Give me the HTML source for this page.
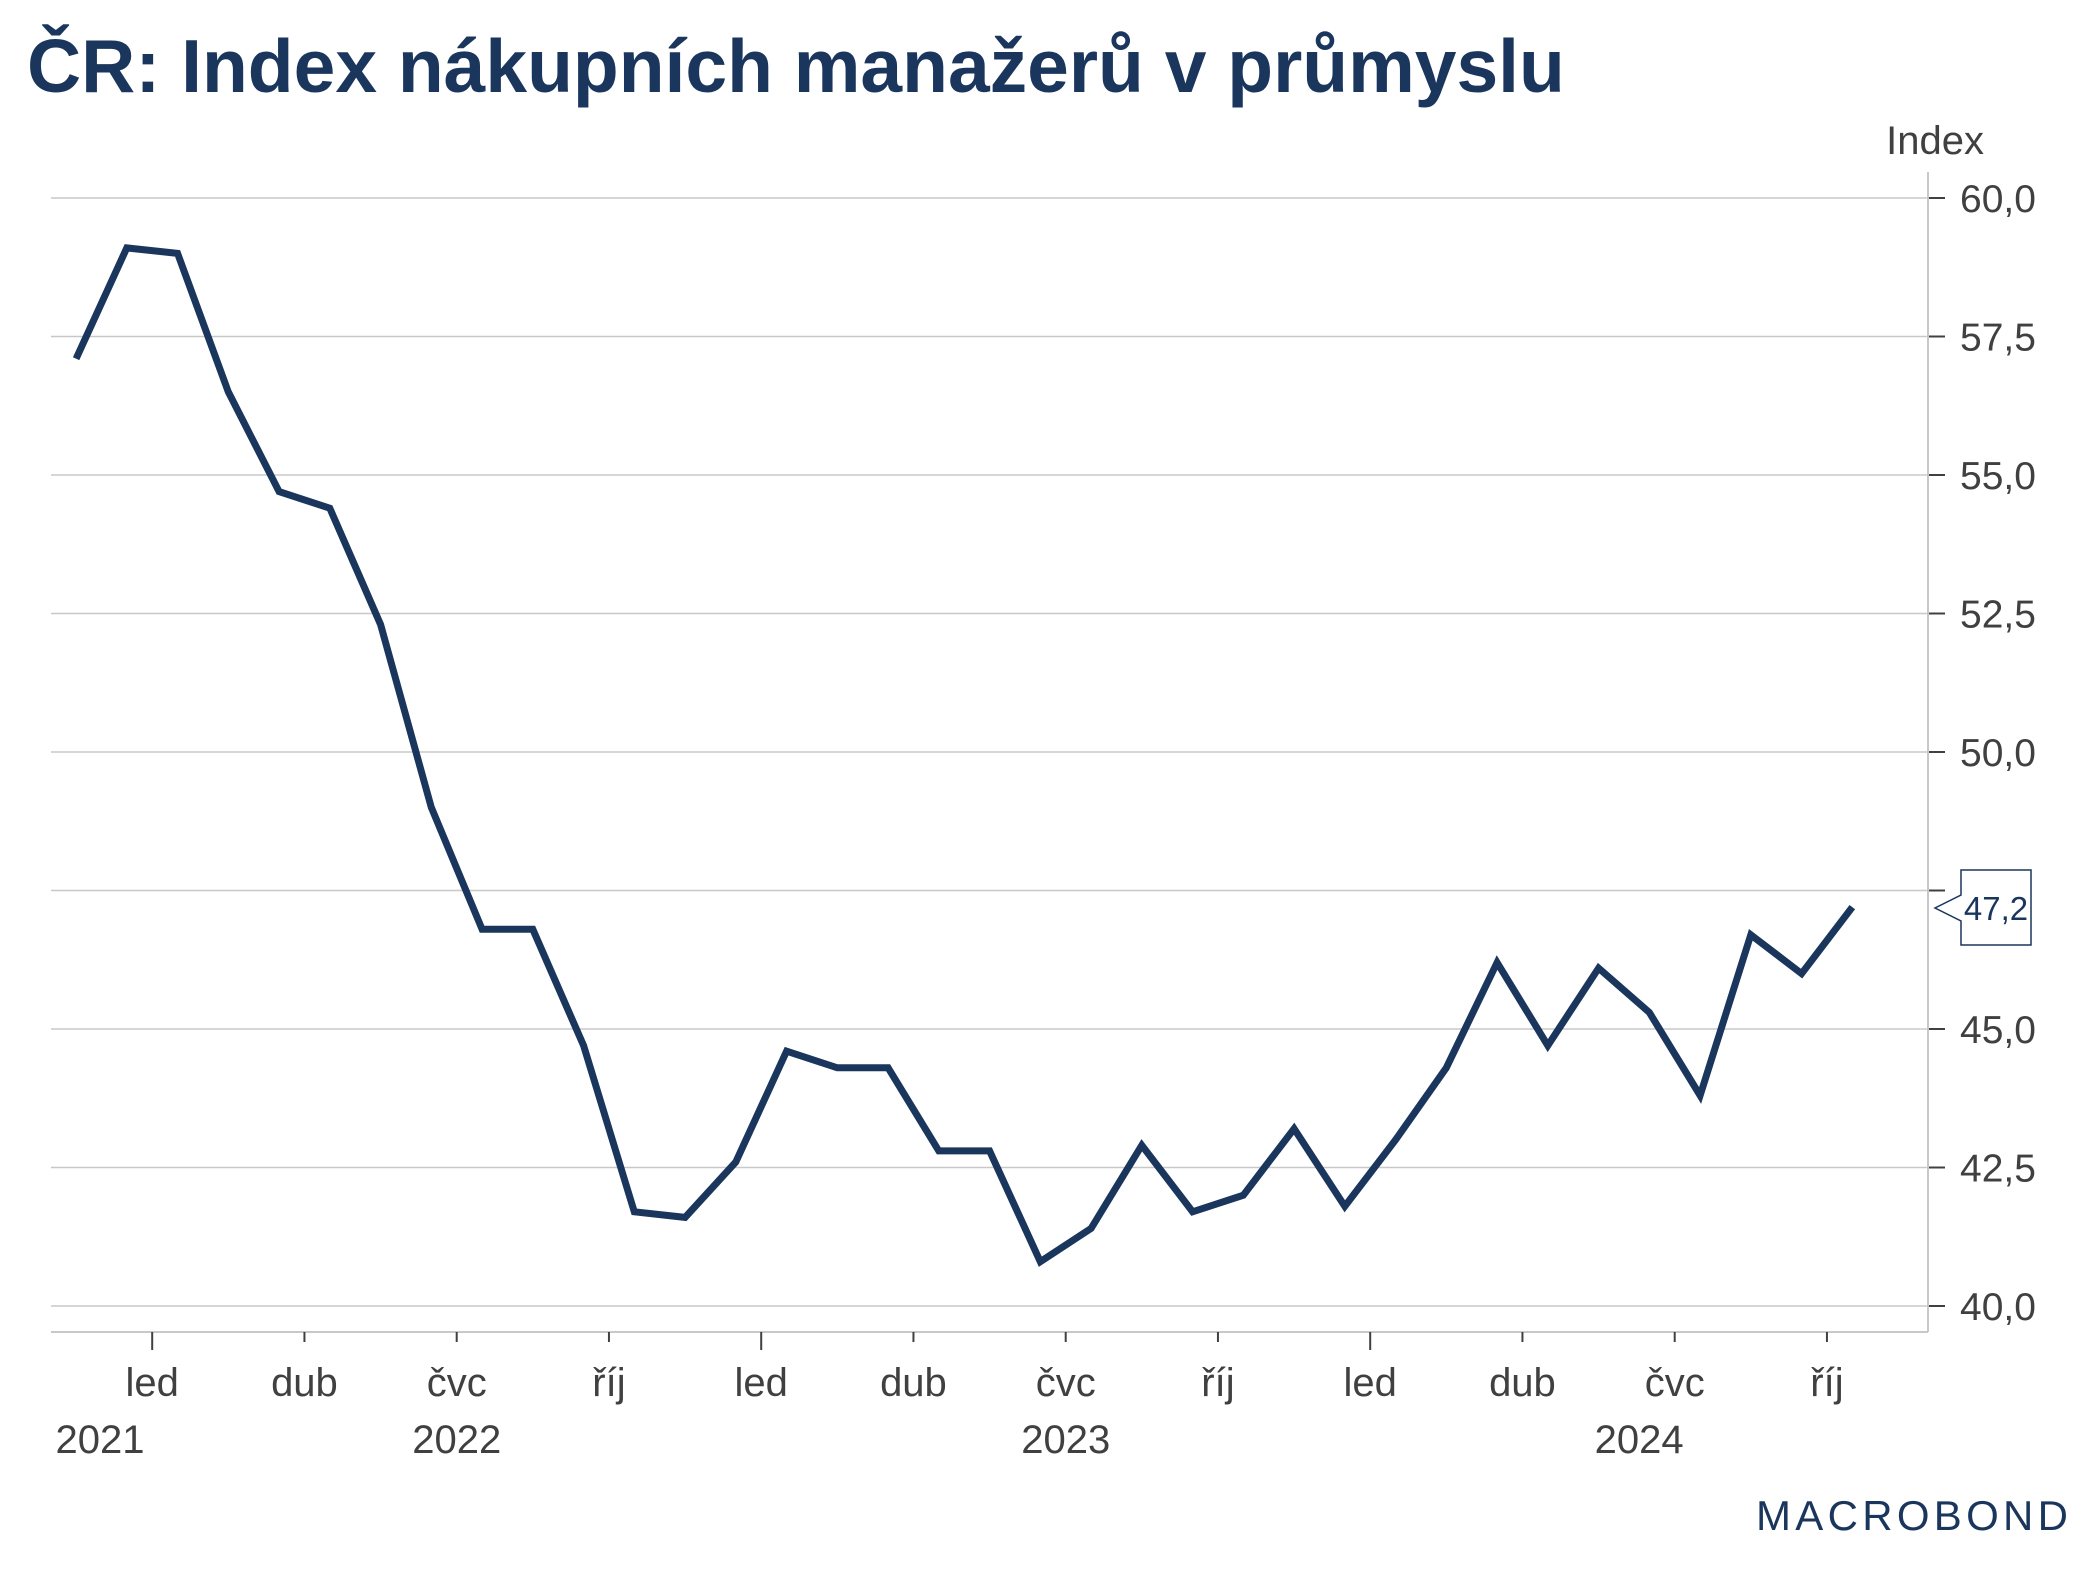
<!DOCTYPE html>
<html><head><meta charset="utf-8"><style>
body{margin:0;background:#fff;}
svg{display:block;font-family:"Liberation Sans",Arial,sans-serif;}
</style></head><body>
<svg id="chart" width="2093" height="1570" viewBox="0 0 2093 1570" xmlns="http://www.w3.org/2000/svg">
<text x="27" y="92" font-size="75" font-weight="bold" fill="#1b365d">ČR: Index nákupních manažerů v průmyslu</text>
<text x="1984" y="154" font-size="40" fill="#404040" text-anchor="end">Index</text>
<g id="grid"></g>
<line x1="1928" y1="172" x2="1928" y2="1332" stroke="#c8c8c8" stroke-width="2"/>
<line x1="51" y1="1332" x2="1928" y2="1332" stroke="#c8c8c8" stroke-width="2"/>
<g id="xaxis"></g>
<g id="series"></g>
<g>
<path d="M1961 870 H2031 V945 H1961 V921 L1935 908 L1961 895 Z" fill="#fff" stroke="#1b365d" stroke-width="1.5"/>
<text id="lastval" x="1996" y="920" font-size="33" fill="#1b365d" text-anchor="middle">47,2</text>
</g>
<g>
<text x="1756" y="1530" font-size="42" fill="#1b365d" textLength="312" lengthAdjust="spacing">MACROBOND</text>
</g>
</svg>
<script>
const months = ["2021-11","2021-12","2022-01","2022-02","2022-03","2022-04","2022-05","2022-06","2022-07","2022-08","2022-09","2022-10","2022-11","2022-12","2023-01","2023-02","2023-03","2023-04","2023-05","2023-06","2023-07","2023-08","2023-09","2023-10","2023-11","2023-12","2024-01","2024-02","2024-03","2024-04","2024-05","2024-06","2024-07","2024-08","2024-09","2024-10"];
const values = [57.1,59.1,59.0,56.5,54.7,54.4,52.3,49.0,46.8,46.8,44.7,41.7,41.6,42.6,44.6,44.3,44.3,42.8,42.8,40.8,41.4,42.9,41.7,42.0,43.2,41.8,43.0,44.3,46.2,44.7,46.1,45.3,43.8,46.7,46.0,47.2];
const yTicks = [40,42.5,45,47.5,50,52.5,55,57.5,60];
const monthNames = ["led","dub","čvc","říj"];
const years = ["2021","2022","2023","2024"];

const NS="http://www.w3.org/2000/svg";
const y = v => 1306 - (v-40)*(1306-198)/20;
const jan22X = 152.2, mW = 50.75;
const monthIdx = s => { const [a,b]=s.split("-").map(Number); return (a-2022)*12 + (b-1); };
const x = s => jan22X + (monthIdx(s)+0.5)*mW;
const tickX = (yr,m) => jan22X + ((yr-2022)*12+m)*mW;
function mk(tag, attrs, parent){const e=document.createElementNS(NS,tag);for(const k in attrs)e.setAttribute(k,attrs[k]);parent.appendChild(e);return e;}
const fmt = v => v.toFixed(1).replace(".",",");
const lastV = values[values.length-1];

const grid=document.getElementById("grid");
yTicks.forEach(t=>{
  const l=mk("line",{x1:51,x2:1928,y1:y(t),y2:y(t),stroke:"#c8c8c8","stroke-width":1.5},grid);
  
  
  mk("line",{x1:1928,x2:1945,y1:y(t),y2:y(t),stroke:"#404040","stroke-width":2},grid);
  if (Math.abs(t-lastV) < 1.0) return;
  const tx=mk("text",{x:1960,y:y(t)+14,"font-size":39,fill:"#404040"},grid);
  tx.textContent=fmt(t);
  
  
});

const xa=document.getElementById("xaxis");
for(let yr=2022; yr<=2024; yr++){
  for(let q=0;q<4;q++){
    const tx=tickX(yr,q*3);
    mk("line",{x1:tx,x2:tx,y1:1332,y2:q==0?1350:1342,stroke:"#404040","stroke-width":2},xa);
    const t=mk("text",{x:tx,y:1396,"font-size":40,fill:"#404040","text-anchor":"middle"},xa);
    t.textContent=monthNames[q];
    
    
  }
}
years.forEach(yr=>{
  const n=Number(yr);
  let cx = n===2021 ? 100 : (n===2024 ? tickX(n,5.3) : tickX(n,6));
  const t=mk("text",{x:cx,y:1453,"font-size":40,fill:"#404040","text-anchor":"middle"},xa);
  t.textContent=yr;
  
  
});

const s=document.getElementById("series");
const d=months.map((m,i)=>(i?"L":"M")+x(m).toFixed(1)+" "+y(values[i]).toFixed(1)).join(" ");
const p=mk("path",{d:d,fill:"none",stroke:"#1b365d","stroke-width":7,"stroke-linejoin":"miter"},s);


document.getElementById("lastval").textContent=fmt(lastV);
</script>
</body></html>
